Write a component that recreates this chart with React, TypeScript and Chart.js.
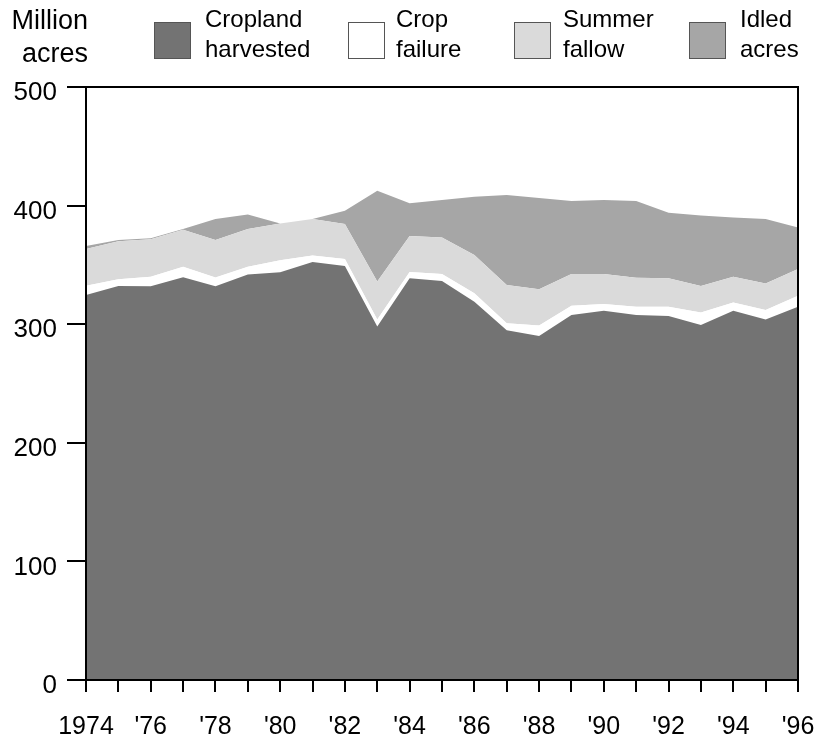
import React, { useEffect, useRef } from "react";
import { Chart, registerables } from "chart.js";

Chart.register(...registerables);

const years = [1974, 1975, 1976, 1977, 1978, 1979, 1980, 1981, 1982, 1983, 1984, 1985, 1986, 1987, 1988, 1989, 1990, 1991, 1992, 1993, 1994, 1995, 1996];
const harvested = [324.6, 332.2, 332.0, 339.5, 332.0, 342.0, 343.7, 352.4, 349.0, 298.0, 338.7, 336.4, 319.0, 295.0, 290.0, 307.8, 311.4, 307.8, 307.0, 299.3, 311.4, 304.0, 314.8];
const failure = [7.9, 5.8, 8.0, 9.0, 7.4, 6.5, 10.3, 5.6, 6.0, 6.0, 5.3, 5.9, 7.0, 5.8, 9.0, 7.8, 5.6, 7.0, 7.8, 10.5, 6.8, 8.0, 9.2];
const fallow = [30.9, 32.0, 31.7, 31.2, 31.6, 31.8, 31.0, 30.7, 29.5, 32.0, 30.4, 30.7, 32.4, 32.2, 30.4, 26.7, 25.3, 24.4, 23.9, 22.4, 21.8, 22.4, 22.6];
const idled = [2.6, 1.0, 0.7, 0.6, 17.7, 12.3, 0.0, 0.0, 11.2, 76.6, 27.6, 31.7, 49.1, 76.0, 77.0, 61.6, 62.4, 64.7, 55.3, 59.4, 50.0, 54.3, 34.9];
const yTicks = [0, 100, 200, 300, 400, 500];

const seriesNames = ["Cropland harvested", "Crop failure", "Summer fallow", "Idled acres"];
const seriesColors = ["#737373", "#ffffff", "#dadada", "#a6a6a6"];

const FONT = '"Liberation Sans", Arial, Helvetica, sans-serif';

const frame = {
  id: "frame",
  afterDatasetsDraw(chart: any) {
    const { ctx, chartArea } = chart;
    ctx.save();
    ctx.strokeStyle = "#000";
    ctx.lineWidth = 2;
    ctx.strokeRect(chartArea.left, chartArea.top, chartArea.right - chartArea.left, chartArea.bottom - chartArea.top);
    ctx.restore();
  },
};

export default function App() {
  const ref = useRef<HTMLCanvasElement>(null);
  useEffect(() => {
    if (!ref.current) return;
    const series = [harvested, failure, fallow, idled];
    const chart = new Chart(ref.current, {
      type: "line",
      data: {
        datasets: series.map((s, i) => ({
          label: seriesNames[i],
          data: s.map((v, j) => ({ x: years[j], y: v })),
          backgroundColor: seriesColors[i],
          borderWidth: 0,
          pointRadius: 0,
          tension: 0,
          fill: i === 0 ? "origin" : "-1",
        })),
      },
      plugins: [frame],
      options: {
        animation: false,
        responsive: false,
        devicePixelRatio: 1,
        layout: { padding: { left: 0, right: 20, top: 87, bottom: 0 } },
        plugins: { legend: { display: false }, tooltip: { enabled: false } },
        scales: {
          x: {
            type: "linear",
            min: years[0],
            max: years[years.length - 1],
            afterFit: (s: any) => {
              s.height = 67;
              s.paddingLeft = 0;
              s.paddingRight = 0;
            },
            border: { display: false },
            grid: { drawOnChartArea: false, drawTicks: true, tickLength: 12, color: "#000", lineWidth: 2 },
            ticks: {
              stepSize: 1,
              autoSkip: false,
              maxRotation: 0,
              padding: 20,
              color: "#000",
              font: { family: FONT, size: 25 },
              callback: (v: any) => {
                const n = Number(v);
                if (n === years[0]) return String(n);
                return n % 2 === 0 ? "'" + String(n).slice(2) : "";
              },
            },
          },
          y: {
            stacked: true,
            min: yTicks[0],
            max: yTicks[yTicks.length - 1],
            afterFit: (s: any) => {
              s.width = 86;
              s.paddingTop = 0;
              s.paddingBottom = 0;
            },
            afterBuildTicks: (s: any) => { s.ticks = yTicks.map((v) => ({ value: v })); },
            border: { display: false },
            grid: { drawOnChartArea: false, drawTicks: true, tickLength: 19, color: "#000", lineWidth: 2 },
            ticks: {
              padding: 10,
              labelOffset: 6,
              color: "#000",
              font: { family: FONT, size: 26 },
            },
          },
        },
      },
    });
    return () => chart.destroy();
  }, []);

  const textStyle: React.CSSProperties = {
    position: "absolute",
    fontFamily: FONT,
    fontSize: 24,
    lineHeight: "30px",
    color: "#000",
    whiteSpace: "nowrap",
  };
  const legend = [
    { box: 154, text: 205, lines: ["Cropland", "harvested"] },
    { box: 348, text: 396, lines: ["Crop", "failure"] },
    { box: 514, text: 563, lines: ["Summer", "fallow"] },
    { box: 689, text: 740, lines: ["Idled", "acres"] },
  ];

  return (
    <div style={{ position: "absolute", left: 0, top: 0, width: 818, height: 747, background: "#fff" }}>
      <canvas ref={ref} width={818} height={747} style={{ position: "absolute", left: 0, top: 0 }} />
      <div style={{ ...textStyle, fontSize: 27, lineHeight: "33px", left: 0, width: 88, textAlign: "right", top: 4 }}>
        Million
        <br />
        acres
      </div>
      {legend.map((l, i) => (
        <React.Fragment key={i}>
          <div
            style={{
              position: "absolute",
              left: l.box,
              top: 22,
              width: 37,
              height: 37,
              boxSizing: "border-box",
              background: seriesColors[i],
              border: "1px solid #555",
            }}
          />
          <div style={{ ...textStyle, left: l.text, top: 4 }}>
            {l.lines[0]}
            <br />
            {l.lines[1]}
          </div>
        </React.Fragment>
      ))}
    </div>
  );
}
